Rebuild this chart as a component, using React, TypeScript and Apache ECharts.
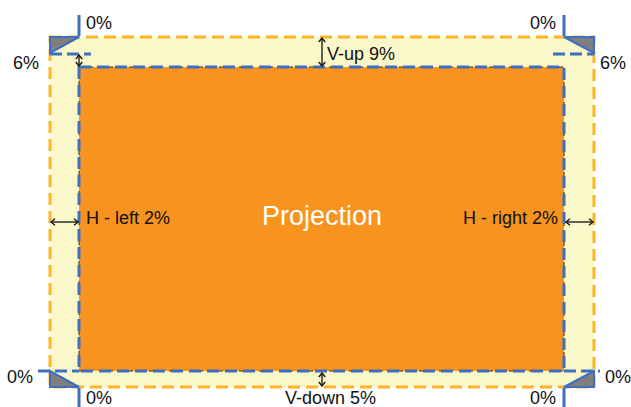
import React, { useEffect, useRef } from "react";
import * as echarts from "echarts";

// Labels of the diagram
const cornerLabels = ["0%", "0%", "6%", "6%", "0%", "0%", "0%", "0%"];
const marginLabels = ["V-up 9%", "V-down 5%", "H - left 2%", "H - right 2%"];
const centerLabels = ["Projection"];

// Layout (pixels)
const OUT = { l: 50, t: 37, r: 594, b: 387 };
const IN = { l: 79, t: 67, r: 564, b: 371 };
const cornerPos = [
  [86, 23], [530, 23], [13, 63], [600, 63], [7, 377], [605, 377], [86, 398], [530, 398],
];
const marginPos = [
  [327, 54, "left"], [285, 398, "left"], [86, 218, "left"], [558, 218, "right"],
];

const BLUE = "#3f6fc0";
const YEL = "#fbb52b";
const FONT = '"Liberation Sans", Arial, sans-serif';

function arrow(x1: number, y1: number, x2: number, y2: number) {
  const els: any[] = [];
  const s = { stroke: "#111", lineWidth: 1.3, fill: null };
  els.push({ type: "line", shape: { x1, y1, x2, y2 }, style: s, z: 20 });
  const h = 4;
  if (x1 === x2) {
    els.push({ type: "polyline", shape: { points: [[x1 - h * 0.8, y1 + h], [x1, y1], [x1 + h * 0.8, y1 + h]] }, style: s, z: 20 });
    els.push({ type: "polyline", shape: { points: [[x2 - h * 0.8, y2 - h], [x2, y2], [x2 + h * 0.8, y2 - h]] }, style: s, z: 20 });
  } else {
    els.push({ type: "polyline", shape: { points: [[x1 + h, y1 - h * 0.8], [x1, y1], [x1 + h, y1 + h * 0.8]] }, style: s, z: 20 });
    els.push({ type: "polyline", shape: { points: [[x2 - h, y2 - h * 0.8], [x2, y2], [x2 - h, y2 + h * 0.8]] }, style: s, z: 20 });
  }
  return els;
}

function blueLine(x1: number, y1: number, x2: number, y2: number, dashed = true) {
  return {
    type: "line",
    shape: { x1, y1, x2, y2 },
    style: { stroke: BLUE, lineWidth: 3, lineDash: dashed ? [12, 5] : null },
    z: 15,
  };
}

function tri(points: number[][]) {
  return {
    type: "polygon",
    shape: { points },
    style: { fill: "#7f7f7f", stroke: BLUE, lineWidth: 2 },
    z: 16,
  };
}

export default function App() {
  const ref = useRef<HTMLDivElement>(null);
  useEffect(() => {
    if (!ref.current) return;
    const chart = echarts.init(ref.current, null, { renderer: "svg" });
    const els: any[] = [];
    // yellow band
    els.push({
      type: "rect",
      shape: { x: OUT.l, y: OUT.t, width: OUT.r - OUT.l, height: OUT.b - OUT.t },
      style: { fill: "#faf7c8" },
      z: 1,
    });
    // orange projection
    els.push({
      type: "rect",
      shape: { x: IN.l, y: IN.t, width: IN.r - IN.l, height: IN.b - IN.t },
      style: { fill: "#f7931e" },
      z: 2,
    });
    // yellow dashed border
    els.push({
      type: "rect",
      shape: { x: OUT.l, y: OUT.t, width: OUT.r - OUT.l, height: OUT.b - OUT.t },
      style: { fill: null, stroke: YEL, lineWidth: 3, lineDash: [12, 6] },
      z: 3,
    });
    // inner border: thin dark under blue dashes
    els.push({
      type: "rect",
      shape: { x: IN.l, y: IN.t, width: IN.r - IN.l, height: IN.b - IN.t },
      style: { fill: null, stroke: "#3a2a1a", lineWidth: 1, lineDash: [4, 6] },
      z: 4,
    });
    els.push({
      type: "rect",
      shape: { x: IN.l, y: IN.t, width: IN.r - IN.l, height: IN.b - IN.t },
      style: { fill: null, stroke: BLUE, lineWidth: 3, lineDash: [12, 6] },
      z: 5,
    });
    // extension lines
    els.push(blueLine(IN.l, 15, IN.l, 36, false));
    els.push(blueLine(IN.r, 15, IN.r, 36, false));
    els.push(blueLine(OUT.l, 54, 91, 54));
    els.push(blueLine(553, 54, OUT.r, 54));
    els.push(blueLine(38, IN.b, IN.l, IN.b));
    els.push(blueLine(IN.r, IN.b, 600, IN.b));
    els.push(blueLine(IN.l, 388, IN.l, 407, false));
    els.push(blueLine(IN.r, 388, IN.r, 407, false));
    // triangles
    els.push(tri([[OUT.l, OUT.t], [IN.l, OUT.t], [OUT.l, 53]]));
    els.push(tri([[IN.r, OUT.t], [OUT.r, OUT.t], [OUT.r, 53]]));
    els.push(tri([[OUT.l, IN.b], [OUT.l, OUT.b], [IN.l, OUT.b]]));
    els.push(tri([[OUT.r, IN.b], [OUT.r, OUT.b], [IN.r, OUT.b]]));
    // arrows
    els.push(...arrow(322, OUT.t + 1, 322, IN.t - 1));
    els.push(...arrow(322, IN.b + 2, 322, OUT.b - 1));
    els.push(...arrow(OUT.l + 1, 222, IN.l - 1, 222));
    els.push(...arrow(IN.r + 2, 222, OUT.r - 1, 222));
    els.push(...arrow(IN.l, 55, IN.l, IN.t - 1));
    // texts
    cornerLabels.forEach((t, i) => {
      els.push({
        type: "text",
        x: cornerPos[i][0],
        y: cornerPos[i][1],
        style: { text: t, fill: "#111", font: `18px ${FONT}`, align: "left", verticalAlign: "middle" },
        z: 30,
      });
    });
    marginLabels.forEach((t, i) => {
      els.push({
        type: "text",
        x: marginPos[i][0],
        y: marginPos[i][1],
        style: { text: t, fill: "#111", font: `18px ${FONT}`, align: marginPos[i][2], verticalAlign: "middle" },
        z: 30,
      });
    });
    els.push({
      type: "text",
      x: 322,
      y: 216,
      style: { text: centerLabels[0], fill: "#ffffff", font: `27px ${FONT}`, align: "center", verticalAlign: "middle" },
      z: 30,
    });
    chart.setOption({ animation: false, graphic: { elements: els } });
    return () => chart.dispose();
  }, []);
  return (
    <div
      ref={ref}
      style={{ position: "fixed", left: 0, top: 0, width: 631, height: 407, background: "#fff" }}
    />
  );
}
